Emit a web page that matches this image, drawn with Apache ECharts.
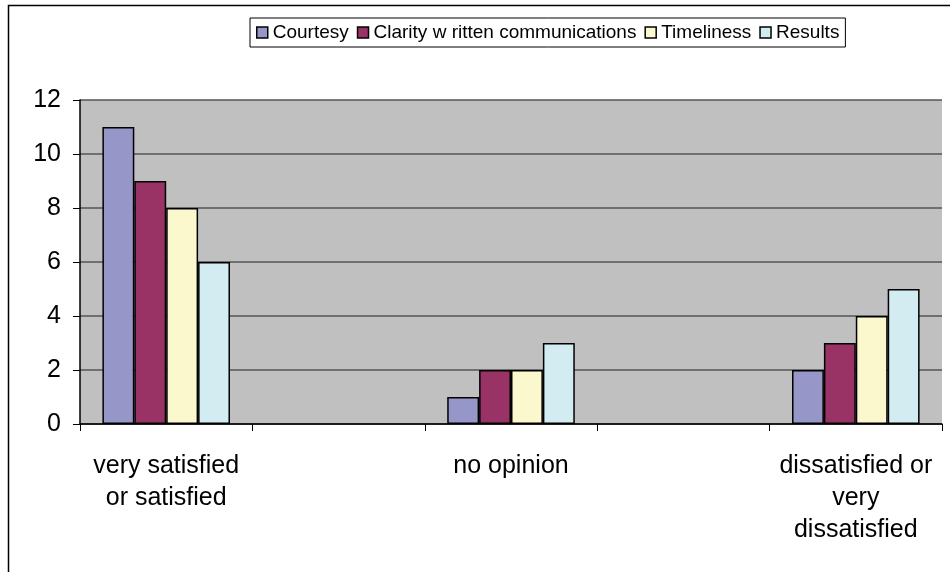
<!DOCTYPE html>
<html>
<head>
<meta charset="utf-8">
<script src="https://cdn.jsdelivr.net/npm/echarts@6/dist/echarts.min.js"></script>
<style>
  html, body { margin: 0; padding: 0; background: #fff; }
  #chart { width: 950px; height: 572px; }
</style>
</head>
<body>
<div id="chart"></div>
<script>
// categories (the empty ones are spacer slots, like the original sheet)
var categories = ['very satisfied\nor satisfied', '', 'no opinion', '', 'dissatisfied or\nvery\ndissatisfied'];
var seriesNames = ['Courtesy', 'Clarity w ritten communications', 'Timeliness', 'Results'];
var courtesy = [11, '-', 1, '-', 2];
var clarity = [9, '-', 2, '-', 3];
var timeliness = [8, '-', 2, '-', 4];
var results = [6, '-', 3, '-', 5];
var yTicks = [0, 2, 4, 6, 8, 10, 12];

var colors = ['#9696C8', '#993366', '#FBF8CE', '#D2ECF2'];
var allData = [courtesy, clarity, timeliness, results];

var myChart = echarts.init(document.getElementById('chart'));

var series = seriesNames.map(function (name, i) {
    return {
        name: name,
        type: 'bar',
        data: allData[i],
        barGap: '0%',
        barCategoryGap: '26%',
        itemStyle: { color: colors[i], borderColor: '#000', borderWidth: 1.5 }
    };
});

option = {
    animation: false,
    textStyle: { fontFamily: 'Liberation Sans, Arial, sans-serif' },
    graphic: [{
        type: 'rect',
        shape: { x: 8.5, y: 5.5, width: 960, height: 600 },
        style: { fill: 'none', stroke: '#000', lineWidth: 1.5 },
        silent: true
    }],
    legend: {
        left: 250,
        top: 18,
        data: seriesNames,
        icon: 'rect',
        itemWidth: 11,
        itemHeight: 11,
        itemGap: 8,
        padding: [5, 6, 5, 6],
        borderColor: '#000',
        borderWidth: 1,
        textStyle: { fontSize: 19, color: '#000', padding: [0, 0, 0, 0] },
        itemStyle: { borderColor: '#000', borderWidth: 1.5 }
    },
    grid: {
        left: 80, right: 8, top: 100, bottom: 148,
        show: true, backgroundColor: '#C0C0C0', borderWidth: 0
    },
    xAxis: {
        type: 'category',
        data: categories,
        axisLine: { lineStyle: { color: '#000', width: 1.5 } },
        axisTick: { show: true, length: 7, lineStyle: { color: '#000' } },
        axisLabel: { color: '#000', fontSize: 25, lineHeight: 32, margin: 26, interval: 0 }
    },
    yAxis: {
        type: 'value',
        min: 0, max: 12, interval: 2,
        axisLine: { show: true, lineStyle: { color: '#000', width: 1.5 } },
        axisTick: { show: true, length: 7, lineStyle: { color: '#000' } },
        axisLabel: { color: '#000', fontSize: 25, margin: 19,
            formatter: function (v) { return yTicks.indexOf(v) >= 0 ? String(v) : ''; } },
        splitLine: { lineStyle: { color: '#555', width: 1.5 } }
    },
    series: series
};

myChart.setOption(option);
</script>
</body>
</html>
